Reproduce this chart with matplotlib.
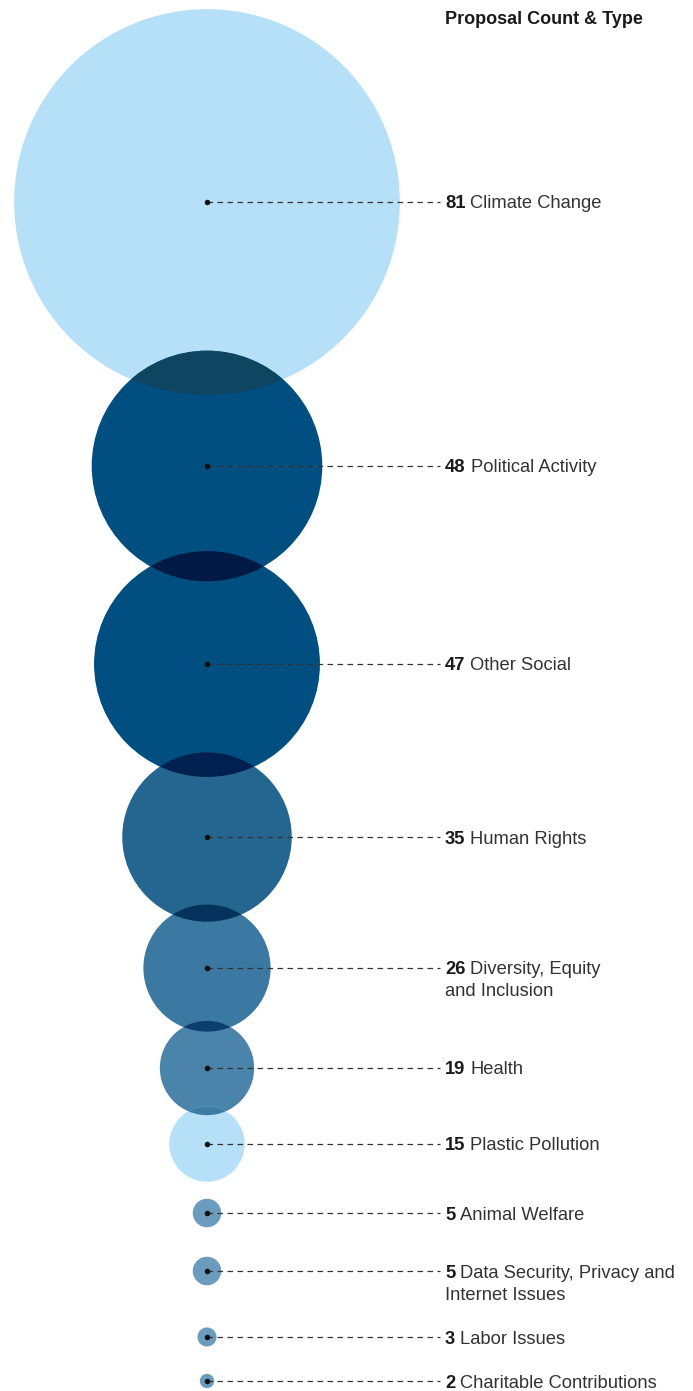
import matplotlib
matplotlib.use("Agg")
import matplotlib.pyplot as plt
from matplotlib.patches import Circle

# ---- data ----
title = "Proposal Count & Type"
categories = [
    "Climate Change",
    "Political Activity",
    "Other Social",
    "Human Rights",
    "Diversity, Equity\nand Inclusion",
    "Health",
    "Plastic Pollution",
    "Animal Welfare",
    "Data Security, Privacy and\nInternet Issues",
    "Labor Issues",
    "Charitable Contributions",
]
counts = [81, 48, 47, 35, 26, 19, 15, 5, 5, 3, 2]

# ---- styles ----
fill_colors = [
    "#b6e0f7", "#004f80", "#004f80", "#24668f", "#3b79a2", "#4a84ab",
    "#b6e0f7", "#6c9cbd", "#6c9cbd", "#6c9cbd", "#6c9cbd",
]
# colour of the lens where a bubble meets the next one down
overlap_colors = [
    "#0e4560", "#001a45", "#00214f", "#06335d", "#0d3f6c", "#3d7aa4",
    None, None, None, None,
]
text_color = "#333333"
num_color = "#1a1a1a"
font = ["Liberation Sans", "DejaVu Sans"]
fs = 13.2

# ---- layout (pixels) ----
W, H = 693, 1391
cx = 207
label_x = 445
line_end = 440
row_y = [202, 466, 664, 837, 968, 1068, 1144, 1213, 1271, 1337, 1381]
line_gap = 22


def radius(v):
    # bubble radius in pixels for a proposal count
    return 2.5 + 2.35 * v


plt.rcParams["lines.scale_dashes"] = False

fig = plt.figure(figsize=(W / 100, H / 100), dpi=100)
ax = fig.add_axes([0, 0, 1, 1])
ax.set_xlim(0, W)
ax.set_ylim(H, 0)
ax.axis("off")

circles = []
for i, (v, y) in enumerate(zip(counts, row_y)):
    c = Circle((cx, y), radius(v), facecolor=fill_colors[i], edgecolor="none",
               zorder=1 + i * 0.01)
    ax.add_patch(c)
    circles.append(c)

# darker lens where neighbouring bubbles overlap
for i in range(len(counts) - 1):
    r1, r2 = radius(counts[i]), radius(counts[i + 1])
    if row_y[i + 1] - row_y[i] < r1 + r2 and overlap_colors[i]:
        lens = Circle((cx, row_y[i + 1]), r2, facecolor=overlap_colors[i],
                      edgecolor="none", zorder=2)
        ax.add_patch(lens)
        lens.set_clip_path(circles[i])

# leader lines and centre dots
for y in row_y:
    ax.plot([cx, line_end], [y, y], color="#333333", lw=0.9,
            dashes=(4.0, 3.2), zorder=3)
    ax.plot([cx], [y], marker="o", ms=4.0, color="#111111", zorder=4,
            markeredgewidth=0)

ax.text(label_x, 18, title, fontsize=13.0, fontweight="bold", family=font,
        color=num_color, va="center_baseline", ha="left")

fig.canvas.draw()
renderer = fig.canvas.get_renderer()
inv = ax.transData.inverted()

for cat, v, y in zip(categories, counts, row_y):
    t = ax.text(label_x, y, str(v), fontsize=fs, fontweight="bold", family=font,
                color=num_color, va="center_baseline", ha="left")
    bb = t.get_window_extent(renderer=renderer)
    x_right = inv.transform((bb.x1, bb.y0))[0]
    lines = cat.split("\n")
    ax.text(x_right + 5, y, lines[0], fontsize=fs, family=font,
            color=text_color, va="center_baseline", ha="left")
    for k, extra in enumerate(lines[1:], start=1):
        ax.text(label_x, y + k * line_gap, extra, fontsize=fs, family=font,
                color=text_color, va="center_baseline", ha="left")

fig.savefig("out.png", dpi=100)
